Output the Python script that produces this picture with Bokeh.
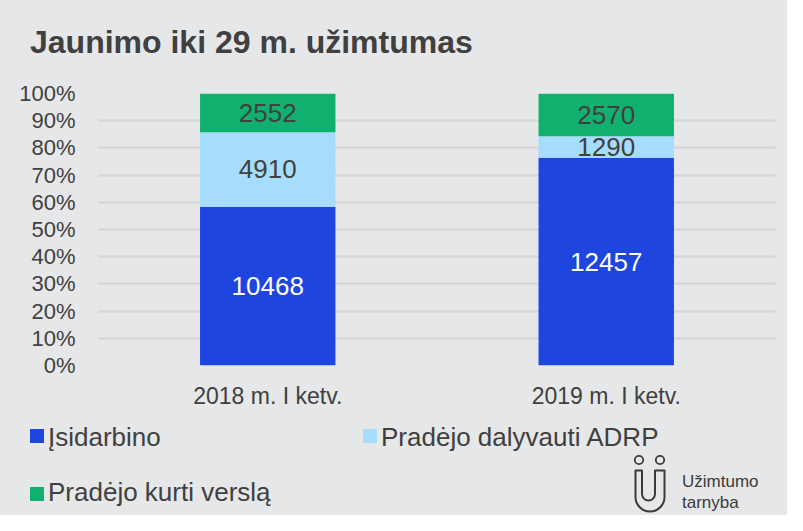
import numpy as np
from bokeh.plotting import figure
from bokeh.models import ColumnDataSource, FactorRange, Range1d, FixedTicker, NumeralTickFormatter, Div
from bokeh.layouts import column
from bokeh.core.properties import value
from bokeh.embed import file_html
from bokeh.resources import INLINE

# ---------------- data ----------------
title_text = "Jaunimo iki 29 m. užimtumas"
categories = ["2018 m. I ketv.", "2019 m. I ketv."]
series_names = ["Įsidarbino", "Pradėjo dalyvauti ADRP", "Pradėjo kurti verslą"]
isidarbino = [10468, 12457]
adrp = [4910, 1290]
verslas = [2552, 2570]
y_ticks = [0.0, 0.1, 0.2, 0.3, 0.4, 0.5, 0.6, 0.7, 0.8, 0.9, 1.0]
logo_lines = ["Užimtumo", "tarnyba"]

# ---------------- style ----------------
colors = ["#1F45DF", "#A6DDFC", "#10B16F"]
label_colors = ["#FFFFFF", "#404040", "#404040"]
BG = "#E6E7E9"
TXT = "#404040"
LOGO = "#3A3A3A"
FONT = "Liberation Sans"
W = 787
H_TITLE, H_PLOT, H_BOT = 60, 357, 98
FL, FR, FT, FB = 98, 775, 33, 305  # frame edges in plot canvas px

# ---------------- title strip ----------------
title_div = Div(text=(f'<svg xmlns="http://www.w3.org/2000/svg" width="{W}" height="{H_TITLE}" '
                      f'style="display:block"><text x="30" y="53" font-family="{FONT}" '
                      f'font-weight="bold" font-size="32px" fill="{TXT}">{title_text}</text></svg>'),
                width=W, height=H_TITLE, margin=0, styles={"background-color": BG})

# ---------------- chart ----------------
series = [isidarbino, adrp, verslas]
totals = [sum(v) for v in zip(*series)]
keys = ["s0", "s1", "s2"]
data = {"cat": categories}
for k, vals in zip(keys, series):
    data[k] = [v / t for v, t in zip(vals, totals)]
src = ColumnDataSource(data)

p = figure(x_range=FactorRange(*categories), y_range=Range1d(0, 1), title=None,
           width=W, height=H_PLOT, output_backend="svg", toolbar_location=None,
           min_border_left=FL, min_border_right=W - FR, min_border_top=FT,
           min_border_bottom=H_PLOT - FB,
           background_fill_alpha=0, border_fill_color=BG, outline_line_color=None,
           styles={"background-color": BG})

bars = p.vbar_stack(keys, x="cat", width=0.4, color=colors, line_color=None, source=src)

# value labels
lx, ly, lt, lc = [], [], [], []
for ci, cat in enumerate(categories):
    bottom = 0.0
    for si, k in enumerate(keys):
        share = data[k][ci]
        lx.append(cat)
        ly.append(bottom + share / 2)
        lt.append(str(series[si][ci]))
        lc.append(label_colors[si])
        bottom += share
lsrc = ColumnDataSource(dict(x=lx, y=ly, t=lt, c=lc))
p.text(x="x", y="y", text="t", text_color="c", source=lsrc,
       text_align="center", text_baseline="middle",
       text_font=value(FONT), text_font_size="26px")

p.yaxis.ticker = FixedTicker(ticks=y_ticks)
p.yaxis.formatter = NumeralTickFormatter(format="0%")
for ax in (p.xaxis, p.yaxis):
    ax.axis_line_color = None
    ax.major_tick_line_color = None
    ax.minor_tick_line_color = None
    ax.major_label_text_font = FONT
    ax.major_label_text_color = TXT
p.yaxis.major_label_text_font_size = "22px"
p.yaxis.major_label_standoff = 17
p.xaxis.major_label_text_font_size = "23px"
p.xaxis.major_label_standoff = 11
p.xgrid.grid_line_color = None
p.ygrid.grid_line_color = "#D3D4D6"
p.ygrid.grid_line_width = 2

# ---------------- legend + logo (bottom strip) ----------------
leg_pos = [(30, 12, 29), (363, 12, 29), (30, 70, 83.5)]  # swatch x, swatch y, text baseline
parts = [f'<svg xmlns="http://www.w3.org/2000/svg" width="{W}" height="{H_BOT}" '
         f'style="display:block">']
for (sx, sy, tb), name, col in zip(leg_pos, series_names, colors):
    parts.append(f'<rect x="{sx}" y="{sy}" width="14" height="14" fill="{col}"/>')
    parts.append(f'<text x="{sx + 18}" y="{tb}" font-family="{FONT}" font-size="26px" '
                 f'fill="{TXT}">{name}</text>')
for cx in (639, 660):
    parts.append(f'<circle cx="{cx}" cy="43" r="4.2" fill="none" stroke="{LOGO}" stroke-width="1.8"/>')
parts.append(f'<path d="M 642 53.5 L 635.5 53.5 L 635.5 80 A 14.5 14.5 0 0 0 664.5 80 '
             f'L 664.5 53.5 L 655 53.5 L 655 77 A 6.5 6.5 0 0 1 642 77 Z" fill="none" '
             f'stroke="{LOGO}" stroke-width="2" stroke-linejoin="round"/>')
for txt, by in zip(logo_lines, (70, 91)):
    parts.append(f'<text x="682" y="{by}" font-family="Noto Sans" font-size="17px" '
                 f'fill="{LOGO}">{txt}</text>')
parts.append('</svg>')

bottom_div = Div(text="".join(parts), width=W, height=H_BOT, margin=0,
                 styles={"background-color": BG})

layout = column(title_div, p, bottom_div, spacing=0, styles={"background-color": BG})
open("out.html", "w", encoding="utf-8").write(file_html(layout, INLINE))
